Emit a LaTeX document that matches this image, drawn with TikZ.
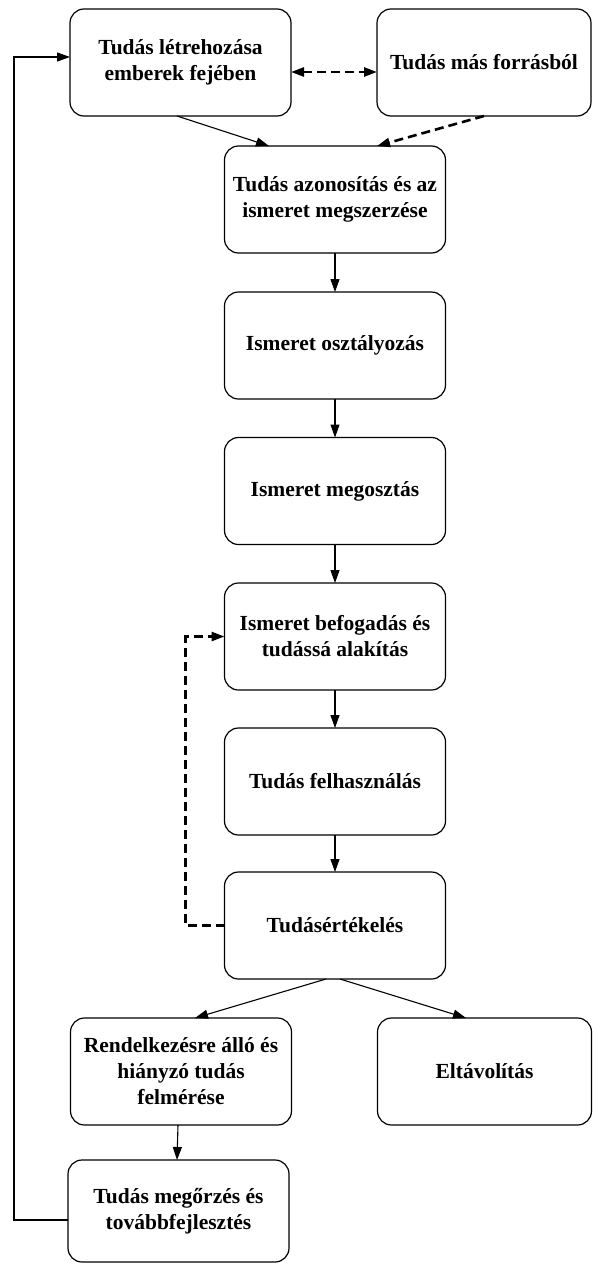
\documentclass[tikz,border=0pt]{standalone}
\usepackage{fontspec}
\setmainfont{Liberation Serif}
\usetikzlibrary{arrows.meta}
\definecolor{ink}{HTML}{000000}
\tikzset{
  box/.style={draw=ink, line width=1.2pt, rounded corners=14pt, minimum width=221pt, minimum height=107pt, inner sep=0pt, outer sep=0pt, align=center, font=\fontsize{21.5}{26}\selectfont\bfseries},
  flow/.style={draw=ink, line width=1.1pt, -{Triangle[length=13pt,width=9pt]}},
  loop/.style={draw=ink, line width=2.6pt, dash pattern=on 9pt off 5pt, -{Triangle[length=13pt,width=9pt]}},
}

\begin{document}
\begin{tikzpicture}[x=1pt,y=-1pt]
  \useasboundingbox (0,0) rectangle (592,1263);
  % top row
  \node[box] (create) at (180.5,62.5) {Tudás létrehozása\\emberek fejében};
  \node[box, minimum width=214pt] (other) at (484,62.5) {Tudás más forrásból};
  % main column
  \node[box] (identify) at (335,199.5) {Tudás azonosítás és az\\ismeret megszerzése};
  \node[box] (classify) at (335,345.5) {Ismeret osztályozás};
  \node[box] (share) at (335,491) {Ismeret megosztás};
  \node[box] (absorb) at (335,636.5) {Ismeret befogadás és\\tudássá alakítás};
  \node[box] (use) at (335,781.5) {Tudás felhasználás};
  \node[box] (evaluate) at (335,925.5) {Tudásértékelés};
  % bottom
  \node[box] (assess) at (181,1071.5) {Rendelkezésre álló és\\hiányzó tudás\\felmérése};
  \node[box, minimum width=214pt] (remove) at (484.5,1071.5) {Eltávolítás};
  \node[box, minimum height=102pt] (retain) at (178.5,1211) {Tudás megőrzés és\\továbbfejlesztés};

  \draw[loop, {Triangle[length=13pt,width=9pt]}-{Triangle[length=13pt,width=9pt]}] ([yshift=-9.5pt]create.east) -- ([yshift=-9.5pt]other.west);
  \draw[flow] ([xshift=-3.5pt]create.south) -- ([xshift=-66pt]identify.north);
  \draw[loop] (other.south) -- ([xshift=42pt]identify.north);
  \foreach \a/\b in {identify/classify, classify/share, share/absorb, absorb/use, use/evaluate}
    \draw[flow] (\a) -- (\b);
  \draw[loop] (evaluate.west) -- ++(-39,0) |- (absorb.west);
  \draw[flow] ([xshift=-9pt]evaluate.south) -- ([xshift=14pt]assess.north);
  \draw[flow] ([xshift=5pt]evaluate.south) -- ([xshift=-18.5pt]remove.north);
  \draw[flow] ([xshift=-3pt]assess.south) -- ([xshift=-1.5pt]retain.north);
  \draw[flow] ([yshift=-9pt]retain.west) -- ++(-54,0) |- ([yshift=5.5pt]create.west);
\end{tikzpicture}
\end{document}
